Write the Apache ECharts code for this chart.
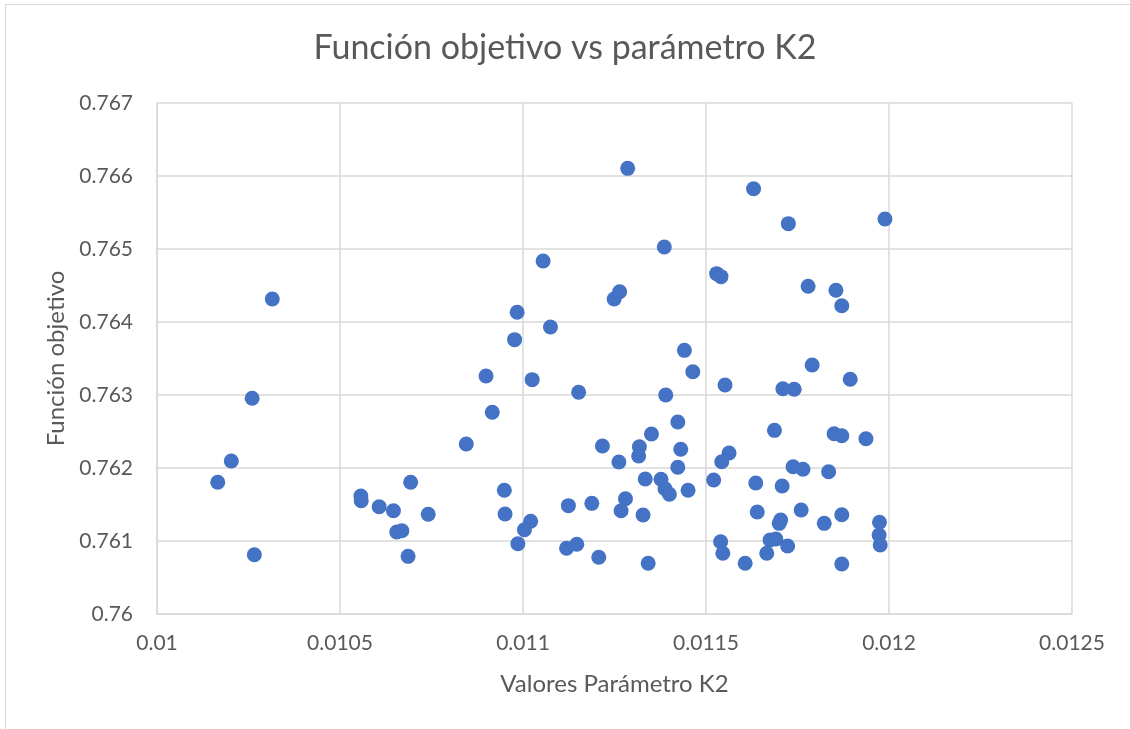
<!DOCTYPE html>
<html>
<head>
<meta charset="utf-8">
<title>Función objetivo vs parámetro K2</title>
<script src="https://cdn.jsdelivr.net/npm/echarts@6/dist/echarts.min.js"></script>
<style>
  html, body { margin: 0; padding: 0; background: #fff; }
  #frame { position: absolute; left: 5px; top: 4px; width: 1200px; height: 800px;
           border-left: 1px solid #d9d9d9; border-top: 1px solid #d9d9d9; }
  #chart { position: absolute; left: 0; top: 0; width: 1130px; height: 729px; }
</style>
</head>
<body>
<div id="frame"></div>
<div id="chart"></div>
<script>
// valores del parámetro K2 (eje x)
var k2Values = [
  0.010315, 0.010260, 0.010203, 0.010166, 0.010266, 0.010557, 0.010558, 0.010607, 0.010646, 0.010693,
  0.010741, 0.010655, 0.010669, 0.010686,
  0.011286, 0.011386, 0.011055, 0.011264, 0.011249, 0.010984, 0.011075, 0.010977, 0.011441, 0.011464,
  0.010899, 0.011025, 0.011152, 0.011390,
  0.010916, 0.010845, 0.011423, 0.011351, 0.011217, 0.011318, 0.011316, 0.011431, 0.011262, 0.011423,
  0.011334, 0.011377, 0.011388, 0.011400, 0.011451, 0.010949, 0.010951, 0.011280, 0.011268, 0.011188,
  0.011124, 0.011328, 0.011021, 0.011004, 0.010986, 0.011119, 0.011147, 0.011207, 0.011342,
  0.011630, 0.011725, 0.011989, 0.011529, 0.011541, 0.011779, 0.011855, 0.011871, 0.011790, 0.011552,
  0.011710, 0.011741, 0.011894,
  0.011687, 0.011563, 0.011543, 0.011850, 0.011871, 0.011937, 0.011521, 0.011636, 0.011708, 0.011738,
  0.011765, 0.011835, 0.011640, 0.011704, 0.011700, 0.011760, 0.011823, 0.011871, 0.011974, 0.011973,
  0.011976, 0.011540, 0.011546, 0.011607, 0.011675, 0.011691, 0.011666, 0.011723, 0.011871
];
// función objetivo (eje y)
var objValues = [
  0.764315, 0.762955, 0.762096, 0.761804, 0.760812, 0.761616, 0.761552, 0.761470, 0.761415, 0.761804,
  0.761366, 0.761123, 0.761141, 0.760790,
  0.766105, 0.765027, 0.764836, 0.764415, 0.764315, 0.764133, 0.763932, 0.763758, 0.763612, 0.763319,
  0.763260, 0.763210, 0.763037, 0.763000,
  0.762763, 0.762329, 0.762630, 0.762466, 0.762301, 0.762292, 0.762164, 0.762256, 0.762082, 0.762010,
  0.761849, 0.761845, 0.761716, 0.761640, 0.761695, 0.761695, 0.761370, 0.761579, 0.761415, 0.761516,
  0.761484, 0.761356, 0.761270, 0.761155, 0.760963, 0.760900, 0.760955, 0.760777, 0.760695,
  0.765826, 0.765347, 0.765411, 0.764662, 0.764621, 0.764489, 0.764434, 0.764223, 0.763411, 0.763137,
  0.763086, 0.763078, 0.763215,
  0.762516, 0.762205, 0.762086, 0.762470, 0.762442, 0.762401, 0.761836, 0.761795, 0.761753, 0.762018,
  0.761982, 0.761949, 0.761397, 0.761288, 0.761242, 0.761425, 0.761242, 0.761360, 0.761256, 0.761082,
  0.760945, 0.760990, 0.760832, 0.760695, 0.761014, 0.761027, 0.760832, 0.760932, 0.760685
];
var xTicks = [0.01, 0.0105, 0.011, 0.0115, 0.012, 0.0125];
var yTicks = [0.76, 0.761, 0.762, 0.763, 0.764, 0.765, 0.766, 0.767];

var points = k2Values.map(function (k, i) { return [k, objValues[i]]; });

var fontFam = 'Lato, "Open Sans", sans-serif';
var chart = echarts.init(document.getElementById('chart'), null, { renderer: 'canvas' });
chart.setOption({
  backgroundColor: 'transparent',
  animation: false,
  title: {
    text: 'Función objetivo vs parámetro K2',
    left: 'center',
    top: 26,
    textStyle: { fontFamily: fontFam, fontSize: 34, fontWeight: 'normal', color: '#595959' }
  },
  grid: { left: 157, right: 58, top: 103, bottom: 115 },
  xAxis: {
    type: 'value',
    min: xTicks[0],
    max: xTicks[xTicks.length - 1],
    interval: 0.0005,
    name: 'Valores Parámetro K2',
    nameLocation: 'middle',
    nameGap: 58,
    nameTextStyle: { fontFamily: fontFam, fontSize: 24, color: '#595959' },
    axisLine: { lineStyle: { color: '#d9d9d9', width: 1.5 } },
    axisTick: { show: false },
    axisLabel: {
      margin: 19,
      fontFamily: fontFam, fontSize: 21, color: '#595959',
      formatter: function (v) { return String(parseFloat(v.toFixed(6))); }
    },
    splitLine: { show: true, lineStyle: { color: '#d9d9d9', width: 1.5 } }
  },
  yAxis: {
    type: 'value',
    min: yTicks[0],
    max: yTicks[yTicks.length - 1],
    interval: 0.001,
    name: 'Función objetivo',
    nameLocation: 'middle',
    nameGap: 88,
    nameTextStyle: { fontFamily: fontFam, fontSize: 24, color: '#595959' },
    axisLine: { show: true, lineStyle: { color: '#d9d9d9', width: 1.5 } },
    axisTick: { show: false },
    axisLabel: {
      margin: 24,
      fontFamily: fontFam, fontSize: 21, color: '#595959',
      formatter: function (v) { return String(parseFloat(v.toFixed(6))); }
    },
    splitLine: { show: true, lineStyle: { color: '#d9d9d9', width: 1.5 } }
  },
  series: [{
    type: 'scatter',
    data: points,
    symbol: 'circle',
    symbolSize: 15,
    itemStyle: { color: '#4472C4', opacity: 1 }
  }]
});
window.addEventListener('resize', chart.resize);
</script>
</body>
</html>
